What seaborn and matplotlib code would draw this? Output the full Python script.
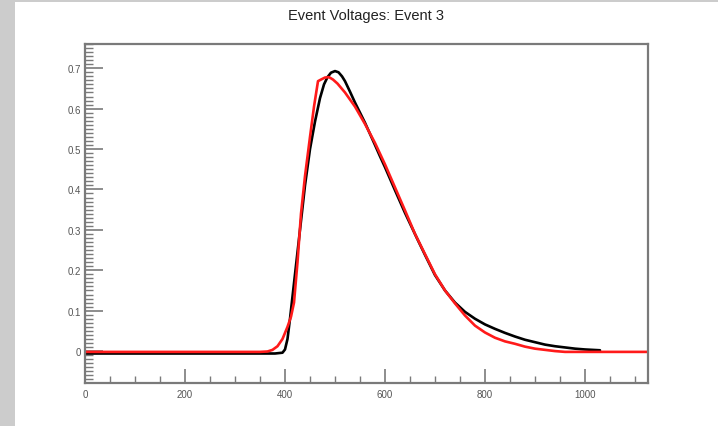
import numpy as np
import pandas as pd
import matplotlib
matplotlib.use("Agg")
import matplotlib.pyplot as plt
import seaborn as sns
from matplotlib.ticker import MultipleLocator
from matplotlib.patches import Rectangle

# ---- data ----
black_x = [0, 100, 200, 300, 380, 395, 400, 405, 410, 420, 430, 440, 450, 460, 470, 478,
           485, 492, 500, 507, 514, 520, 530, 540, 550, 560, 580, 590, 600, 620, 640, 664,
           680, 700, 720, 740, 760, 780, 800, 820, 840, 860, 880, 900, 920, 940, 960, 980,
           1000, 1030]
black_y = [-0.006, -0.006, -0.006, -0.006, -0.006, -0.004, 0.004, 0.03, 0.08, 0.19, 0.30,
           0.41, 0.50, 0.568, 0.626, 0.660, 0.678, 0.689, 0.693, 0.690, 0.680, 0.668,
           0.642, 0.615, 0.590, 0.565, 0.510, 0.482, 0.455, 0.398, 0.342, 0.279, 0.238,
           0.188, 0.150, 0.120, 0.097, 0.080, 0.066, 0.055, 0.045, 0.036, 0.028, 0.022,
           0.016, 0.012, 0.009, 0.006, 0.004, 0.002]

red_x = [0, 100, 200, 300, 350, 365, 375, 385, 395, 405, 412, 418, 425, 432, 440, 450, 458,
         466, 472, 480, 488, 496, 505, 520, 540, 560, 580, 600, 620, 640, 660, 680, 700, 720,
         740, 760, 780, 800, 820, 840, 860, 880, 900, 920, 940, 960, 1000, 1126]
red_y = [-0.002, -0.002, -0.002, -0.002, -0.002, -0.001, 0.003, 0.012, 0.03, 0.06, 0.085,
         0.12, 0.22, 0.34, 0.433, 0.53, 0.605, 0.668, 0.672, 0.677, 0.678, 0.672, 0.662,
         0.640, 0.605, 0.562, 0.515, 0.462, 0.405, 0.348, 0.290, 0.240, 0.190, 0.150,
         0.118, 0.088, 0.063, 0.046, 0.033, 0.024, 0.018, 0.011, 0.006, 0.003, 0.000,
         -0.002, -0.002, -0.002]

title = "Event Voltages: Event 3"
x_major = [0, 200, 400, 600, 800, 1000]
y_major = [0, 0.1, 0.2, 0.3, 0.4, 0.5, 0.6, 0.7]

df_black = pd.DataFrame({"t": black_x, "v": black_y})
df_red = pd.DataFrame({"t": red_x, "v": red_y})

sns.set_theme(style="white")
plt.rcParams["font.family"] = ["Liberation Sans", "DejaVu Sans"]

fig = plt.figure(figsize=(7.18, 4.27), dpi=100)
fig.patch.set_facecolor("white")
# grey canvas edges
fig.patches.append(Rectangle((0, 0), 15 / 718, 1, transform=fig.transFigure,
                             facecolor="#cccccc", edgecolor="none", zorder=0))
fig.patches.append(Rectangle((0, 1 - 2.5 / 427), 1, 2.5 / 427, transform=fig.transFigure,
                             facecolor="#cccccc", edgecolor="none", zorder=0))

ax = fig.add_axes([85 / 718, 1 - 384 / 427, (648 - 85) / 718, (384 - 45) / 427])

sns.lineplot(data=df_black, x="t", y="v", ax=ax, color="black", linewidth=1.9,
             estimator=None, sort=False)
sns.lineplot(data=df_red, x="t", y="v", ax=ax, color="#ff1a1a", linewidth=1.9,
             estimator=None, sort=False)

ax.set_xlim(0, 1126)
ax.set_ylim(-0.079, 0.760)
ax.set_xlabel("")
ax.set_ylabel("")

ax.set_xticks(x_major)
ax.set_xticklabels([str(v) for v in x_major])
ax.set_yticks(y_major)
ax.set_yticklabels(["0" if v == 0 else f"{v:.1f}" for v in y_major])
ax.xaxis.set_minor_locator(MultipleLocator(50))
ax.yaxis.set_minor_locator(MultipleLocator(0.01))

frame_col = "#7a7a7a"
for s in ax.spines.values():
    s.set_color(frame_col)
    s.set_linewidth(1.6)
    s.set_visible(True)

ax.tick_params(axis="both", which="both", direction="in", colors=frame_col,
               labelcolor="#555555", labelsize=7, bottom=True, left=True,
               top=False, right=False)
ax.tick_params(axis="y", which="major", length=13, width=1.2, pad=3)
ax.tick_params(axis="y", which="minor", length=6, width=1.0)
ax.tick_params(axis="x", which="major", length=10, width=1.2, pad=4)
ax.tick_params(axis="x", which="minor", length=5, width=1.0)

fig.text((85 + 648) / 2 / 718, 1 - 16 / 427, title, ha="center", va="center",
         fontsize=10.5, color="#222222")

fig.savefig("out.png", dpi=100)
